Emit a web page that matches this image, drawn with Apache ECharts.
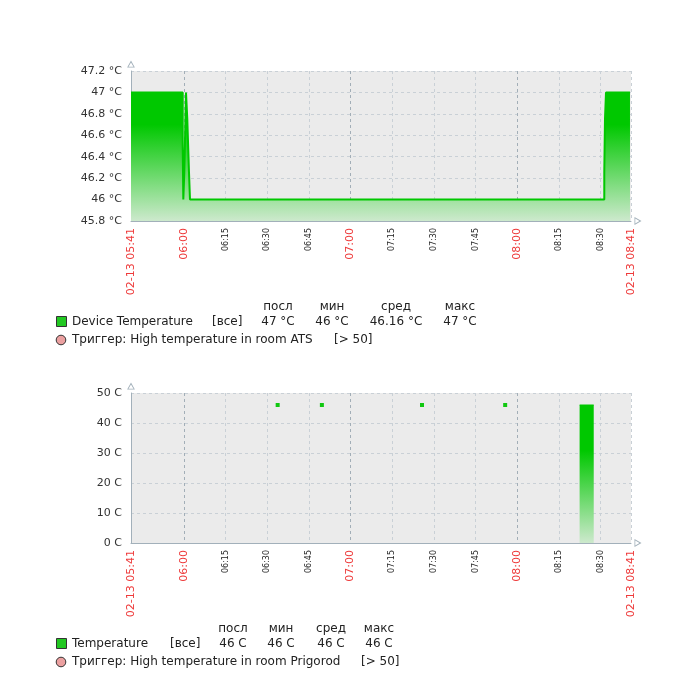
<!DOCTYPE html>
<html lang="ru">
<head>
<meta charset="UTF-8">
<title>Температура</title>
<style>html,body{margin:0;padding:0;background:#fff;}</style>
</head>
<body>
<div id="main" style="width:700px;height:682px;"></div>
<script src="https://cdn.jsdelivr.net/npm/echarts@6.0.0/dist/echarts.min.js"></script>
<script>
// общая ось времени (02-13, 05:41 .. 08:41)
var dateLabel = '02-13';
var timeTicks = ['05:41','06:00','06:15','06:30','06:45','07:00','07:15','07:30','07:45','08:00','08:15','08:30','08:41'];

// Device Temperature (ATS), ступенчатая линия
var atsTimes  = ['05:41:00','05:59:37','05:59:50','06:00:11','06:00:48','06:01:16','06:01:53','06:02:14','08:31:23','08:31:38','08:32:00','08:40:38'];
var atsValues = [47, 46.5, 46, 46.25, 47, 46.75, 46.25, 46, 46.25, 46.75, 47, 47];

// Temperature (Prigorod): сплошной участок и одиночные точки
var prgBlockTimes  = ['08:22:30','08:27:35'];
var prgBlockValues = [46, 46];
var prgPointTimes  = ['06:33:48','06:49:43','07:25:46','07:55:42'];
var prgPointValues = [46, 46, 46, 46];

// легенда
var legendHeads = ['посл','мин','сред','макс'];
var atsName = 'Device Temperature';
var atsStats = ['47 °C','46 °C','46.16 °C','47 °C'];
var atsTrigger = 'Триггер: High temperature in room ATS';
var prgName = 'Temperature';
var prgStats = ['46 C','46 C','46 C','46 C'];
var prgTrigger = 'Триггер: High temperature in room Prigorod';
var trigLimit = '[> 50]';
var funcLabel = '[все]';

var FONT = 'DejaVu Sans';
var GREEN = '#00c800';
var axisColor = '#a2b0ba';

function toMin(t) {
    var p = t.split(':');
    return +p[0] * 60 + +p[1] + (p[2] ? +p[2] / 60 : 0);
}
function pairs(ts, vs) {
    return ts.map(function (t, i) { return [toMin(t), vs[i]]; });
}
function pad(n) { return (n < 10 ? '0' : '') + n; }

var tickMins = timeTicks.map(toMin);
var firstTick = tickMins[0], lastTick = tickMins[tickMins.length - 1];
var splitColors = tickMins.map(function (m) { return m % 60 === 0 ? '#a2aeb7' : '#c9d0d6'; });

// полый треугольник на концах осей
var arrowPath = 'path://M5,0L10,9L0,9Z M5,2.6L1.8,8L8.2,8Z';

function xLabel(v) {
    var m = Math.round(v);
    var s = pad(Math.floor(m / 60)) + ':' + pad(m % 60);
    if (m === firstTick || m === lastTick) return '{r|' + dateLabel + ' ' + s + '}';
    if (m % 60 === 0) return '{r|' + s + '}';
    return '{s|' + s + '}';
}

function xAxisFor(idx) {
    return {
        type: 'value', gridIndex: idx, min: firstTick, max: lastTick,
        axisLine: {show: true, onZero: false, lineStyle: {color: axisColor, width: 1},
            symbol: ['none', arrowPath], symbolSize: [8, 7], symbolOffset: [0, 7]},
        axisTick: {show: false, customValues: tickMins},
        splitLine: {show: true, lineStyle: {color: splitColors, type: [3, 3], width: 1}},
        axisLabel: {
            customValues: tickMins, rotate: 90, margin: 7, formatter: xLabel,
            rich: {
                r: {color: '#ee3a3a', fontSize: 11, fontFamily: FONT},
                s: {color: '#222', fontSize: 8, fontFamily: FONT}
            }
        }
    };
}

function yAxisFor(idx, min, max, step, fmt) {
    return {
        type: 'value', gridIndex: idx, min: min, max: max, interval: step,
        axisLine: {show: true, onZero: false, lineStyle: {color: axisColor, width: 1},
            symbol: ['none', arrowPath], symbolSize: [8, 7], symbolOffset: [0, 7]},
        axisTick: {show: false},
        splitLine: {show: true, lineStyle: {color: '#c9d0d6', type: [3, 3], width: 1}},
        axisLabel: {formatter: fmt, fontSize: 11, color: '#333', fontFamily: FONT, margin: 9}
    };
}

function fade(solidTo) {
    return new echarts.graphic.LinearGradient(0, 0, 0, 1, [
        {offset: 0, color: GREEN},
        {offset: solidTo, color: GREEN},
        {offset: 1, color: '#cde9cd'}
    ]);
}

// легенда под графиком
function legend(y0, name, stats, cols, funcX, trigger, limitX) {
    var txt = function (s, x, y, align) {
        return {type: 'text', x: x, y: y, silent: true,
            style: {text: s, fill: '#222', font: '12px "' + FONT + '"',
                textAlign: align || 'left', textVerticalAlign: 'middle'}};
    };
    var els = [];
    legendHeads.forEach(function (h, i) { els.push(txt(h, cols[i], y0, 'center')); });
    els.push({type: 'rect', shape: {x: 56.5, y: y0 + 9.5, width: 10, height: 10},
        style: {fill: '#22c822', stroke: '#333', lineWidth: 1}});
    els.push(txt(name, 72, y0 + 15));
    els.push(txt(funcLabel, funcX, y0 + 15));
    stats.forEach(function (s, i) { els.push(txt(s, cols[i], y0 + 15, 'center')); });
    els.push({type: 'circle', shape: {cx: 61, cy: y0 + 33, r: 4.8},
        style: {fill: '#eba0a0', stroke: '#333', lineWidth: 1}});
    els.push(txt(trigger, 72, y0 + 33));
    els.push(txt(trigLimit, limitX, y0 + 33));
    return els;
}

var myChart = echarts.init(document.getElementById('main'));

var option = {
    animation: false,
    backgroundColor: '#fff',
    textStyle: {fontFamily: FONT},
    grid: [
        {left: 131, top: 71, width: 500, height: 150, show: true, backgroundColor: '#ebebeb', borderWidth: 0},
        {left: 131, top: 393, width: 500, height: 150, show: true, backgroundColor: '#ebebeb', borderWidth: 0}
    ],
    xAxis: [xAxisFor(0), xAxisFor(1)],
    yAxis: [
        yAxisFor(0, 45.8, 47.2, 0.2, function (v) { return +v.toFixed(1) + ' °C'; }),
        yAxisFor(1, 0, 50, 10, function (v) { return v + ' C'; })
    ],
    series: [
        {
            name: atsName, type: 'line', xAxisIndex: 0, yAxisIndex: 0,
            data: pairs(atsTimes, atsValues), step: 'end',
            showSymbol: false, lineStyle: {color: GREEN, width: 2},
            areaStyle: {origin: 'start', color: fade(0.25), opacity: 1}
        },
        {
            name: prgName, type: 'line', xAxisIndex: 1, yAxisIndex: 1,
            data: pairs(prgBlockTimes, prgBlockValues), step: 'end',
            showSymbol: false, lineStyle: {color: GREEN, width: 1},
            areaStyle: {origin: 'start', color: fade(0.33), opacity: 1}
        },
        {
            name: prgName, type: 'scatter', xAxisIndex: 1, yAxisIndex: 1,
            data: pairs(prgPointTimes, prgPointValues),
            symbol: 'rect', symbolSize: 4, itemStyle: {color: '#10c810', opacity: 1}
        }
    ],
    graphic: legend(307, atsName, atsStats, [278, 332, 396, 460], 212, atsTrigger, 334)
        .concat(legend(629, prgName, prgStats, [233, 281, 331, 379], 170, prgTrigger, 361))
};
myChart.setOption(option);
</script>
</body>
</html>
